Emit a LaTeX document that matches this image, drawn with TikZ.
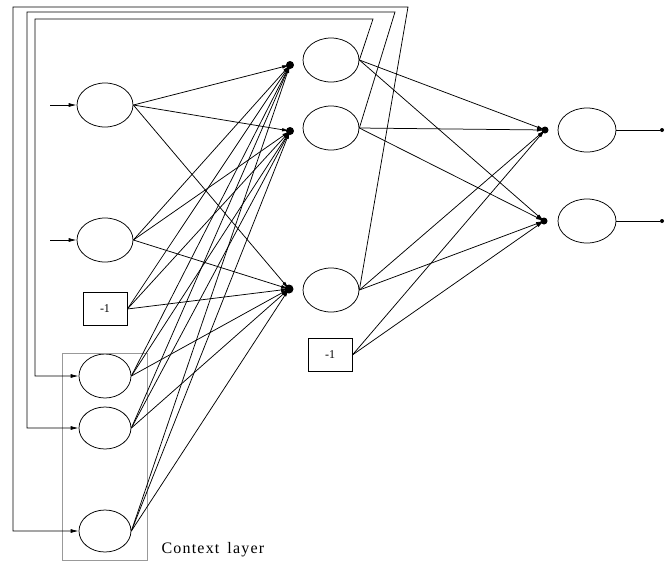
\documentclass[tikz,border=0pt]{standalone}
\usepackage{fontspec}
\setmainfont{Liberation Serif}
\usetikzlibrary{shapes.geometric,arrows.meta}
\begin{document}
\begin{tikzpicture}[x=1pt,y=-1pt,
  neuron/.style={draw, ellipse, minimum width=56pt, minimum height=44pt, inner sep=0pt, line width=0.75pt},
  biasbox/.style={draw, rectangle, minimum width=44pt, minimum height=33pt, inner sep=0pt,
    font=\fontsize{12}{12}\selectfont, line width=0.75pt},
  link/.style={line width=0.75pt, -{Latex[length=8pt,width=3.5pt]}},
  feed/.style={line width=0.75pt, -{Latex[length=8pt,width=4pt]}},
  sumdot/.style={fill=black, circle, inner sep=0pt, minimum size=8pt},
  enddot/.style={fill=black, circle, inner sep=0pt, minimum size=4pt},
  plain/.style={line width=0.7pt}
]
\useasboundingbox (0,0) rectangle (665,566);

% input layer
\node[neuron] (in1) at (105,105) {};
\node[neuron] (in2) at (105,240) {};
\node[biasbox] (b1) at (105,309) {-1};

% context layer
\node[neuron, minimum width=52pt] (c1) at (105,376) {};
\node[neuron, minimum width=52pt, minimum height=42pt] (c2) at (105,428) {};
\node[neuron, minimum width=52pt, minimum height=42pt] (c3) at (105,531) {};
\draw[gray!80, line width=0.5pt] (62,353) rectangle (147,560);
\node[anchor=west, font=\fontsize{16}{16}\selectfont] (ctxlabel) at (158,550) {C\kern1.2pt o\kern1.2pt n\kern1.2pt t\kern1.2pt e\kern1.2pt x\kern1.2pt t\ \ l\kern1.2pt a\kern1.2pt y\kern1.2pt e\kern1.2pt r};

% hidden layer
\node[neuron] (h1) at (331,60) {};
\node[neuron] (h2) at (331,128) {};
\node[neuron] (h3) at (331,290) {};
\node[biasbox] (b2) at (330,355) {-1};
\node[sumdot] (hd1) at (290,65) {};
\node[sumdot] (hd2) at (290,131) {};
\node[sumdot, minimum size=9pt] (hd3) at (289,289) {};

% output layer
\node[neuron, minimum width=58pt] (o1) at (587,130) {};
\node[neuron, minimum width=58pt] (o2) at (587,221) {};
\node[sumdot, minimum size=7pt] (od1) at (545,130) {};
\node[sumdot, minimum size=7pt] (od2) at (544,221) {};
\node[enddot] (e1) at (662,130) {};
\node[enddot] (e2) at (662,221) {};

% external inputs
\coordinate (s1) at (50,105);
\coordinate (s2) at (50,240);
\draw[feed] (s1) -- (in1.west);
\draw[feed] (s2) -- (in2.west);

% input + context layer to hidden layer
\foreach \src in {in1,in2,c1,c2,c3} {
  \foreach \dst in {hd1,hd2,hd3} {
    \draw[link] (\src.east) -- (\dst.center);
  }
}
\foreach \dst in {hd1,hd2,hd3} {
  \draw[link] (b1.east) -- (\dst.center);
}

% hidden layer to output layer
\foreach \src in {h1,h2,h3,b2} {
  \foreach \dst in {od1,od2} {
    \draw[link] (\src.east) -- (\dst.center);
  }
}

% outputs
\draw[plain] (o1.east) -- (e1);
\draw[plain] (o2.east) -- (e2);

% recurrent copies of the hidden layer into the context layer
\coordinate (t1) at (373,19);
\coordinate (t2) at (395,12);
\coordinate (t3) at (408,7);
\coordinate (l1) at (35,19);
\coordinate (l2) at (27,12);
\coordinate (l3) at (13,7);
\draw[feed] (h1.east) -- (t1) -- (l1) |- (c1.west);
\draw[feed] (h2.east) -- (t2) -- (l2) |- (c2.west);
\draw[feed] (h3.east) -- (t3) -- (l3) |- (c3.west);
\end{tikzpicture}
\end{document}
